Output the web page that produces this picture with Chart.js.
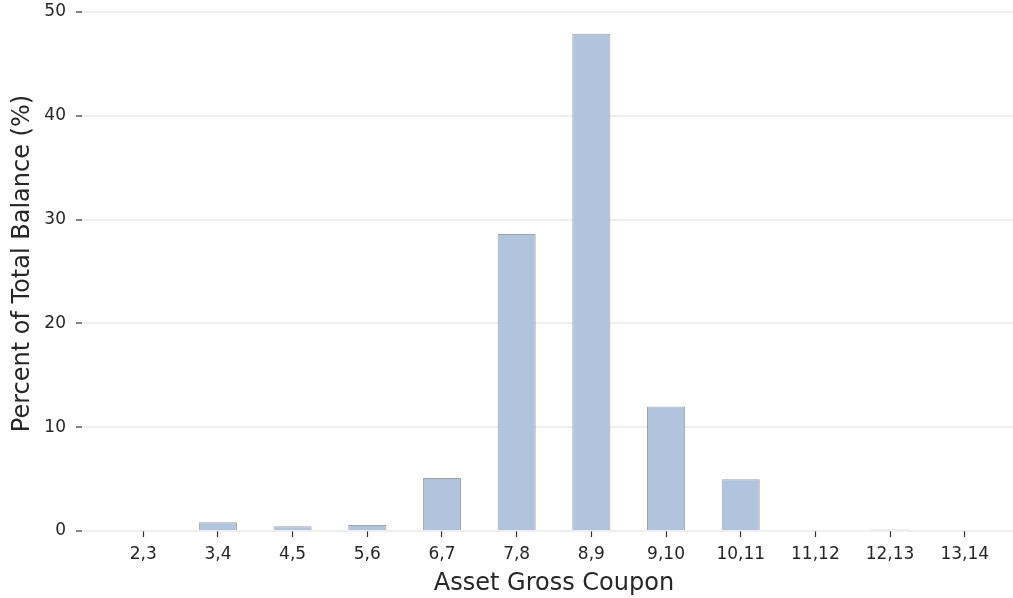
<!DOCTYPE html>
<html>
<head>
<meta charset="utf-8">
<script src="https://cdn.jsdelivr.net/npm/chart.js@4/dist/chart.umd.min.js"></script>
<style>
  html, body { margin: 0; padding: 0; background: #fff; overflow: hidden; }
  /* the plot runs a little past the right and top edges, as in the cropped original */
  #wrap { position: absolute; left: 0; top: -4px; width: 1026px; height: 602px; }
</style>
</head>
<body>
<div id="wrap"><canvas id="couponChart"></canvas></div>
<script>
// Coupon buckets and share of total balance (%)
const categories = ['2,3', '3,4', '4,5', '5,6', '6,7', '7,8', '8,9', '9,10', '10,11', '11,12', '12,13', '13,14'];
const balancePct = [0, 0.85, 0.45, 0.57, 5.1, 28.6, 47.9, 12.0, 4.98, 0, 0.15, 0];
const yTicks = [0, 10, 20, 30, 40, 50];

const textColor = '#262626';
const font = 'DejaVu Sans';

const ctx = document.getElementById('couponChart').getContext('2d');

new Chart(ctx, {
  type: 'bar',
  data: {
    datasets: [{
      label: 'Percent of Total Balance',
      data: balancePct.map((v, i) => ({ x: i, y: v })),
      backgroundColor: '#b0c4de',
      borderColor: 'rgba(100,100,100,0.6)',
      borderWidth: 1,
      barPercentage: 0.51,
      categoryPercentage: 1
    }]
  },
  options: {
    responsive: true,
    maintainAspectRatio: false,
    animation: false,
    layout: { padding: 0 },
    plugins: {
      legend: { display: false },
      tooltip: { enabled: false }
    },
    scales: {
      x: {
        type: 'linear',
        min: -0.82,
        max: 11.82,
        offset: false,
        border: { display: false },
        grid: {
          offset: false,
          drawOnChartArea: false,
          tickLength: 6,
          tickColor: '#333',
          tickWidth: 1.2
        },
        afterBuildTicks: axis => { axis.ticks = categories.map((c, i) => ({ value: i })); },
        afterFit: axis => {
          axis.height = 67;
          axis.paddingLeft = 0;
          axis.paddingRight = 0;
        },
        ticks: {
          autoSkip: false,
          maxRotation: 0,
          padding: 7,
          color: textColor,
          font: { family: font, size: 17 },
          callback: v => categories[v]
        },
        title: {
          display: true,
          text: 'Asset Gross Coupon',
          color: textColor,
          font: { family: font, size: 24 },
          padding: { top: 0, bottom: 0 }
        }
      },
      y: {
        min: 0,
        max: 51.54,
        z: 1,
        border: { display: false },
        grid: {
          color: 'rgba(215,215,215,0.4)',
          lineWidth: 2,
          tickLength: 6,
          tickColor: '#333',
          tickWidth: 1.2
        },
        afterBuildTicks: axis => { axis.ticks = yTicks.map(v => ({ value: v })); },
        afterFit: axis => {
          axis.width = 82;
          axis.paddingTop = 0;
          axis.paddingBottom = 0;
        },
        ticks: {
          padding: 10,
          color: textColor,
          font: { family: font, size: 17 }
        },
        title: {
          display: true,
          text: 'Percent of Total Balance (%)',
          color: textColor,
          font: { family: font, size: 24 },
          padding: { top: 8, bottom: 0 }
        }
      }
    }
  }
});
</script>
</body>
</html>
